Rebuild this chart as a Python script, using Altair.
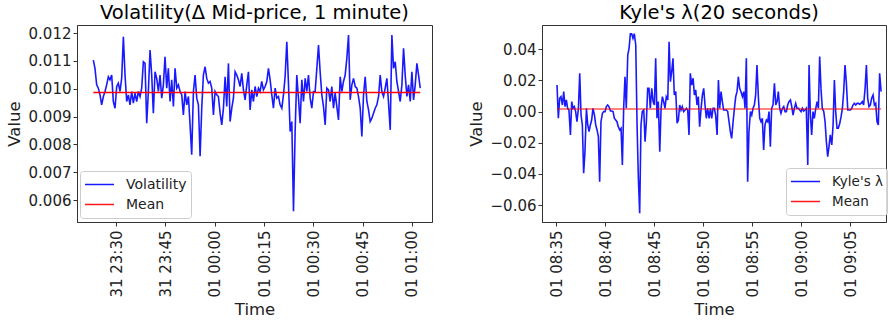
import altair as alt
import numpy as np
import pandas as pd

# ---------------- data ----------------
vol_values = [
    0.01103, 0.01073, 0.01014, 0.01002, 0.00978, 0.00942, 0.00972, 0.00990, 0.01014, 0.01043,
    0.01032, 0.01049, 0.00954, 0.00930, 0.01008, 0.01020, 0.00990, 0.01037, 0.01187, 0.01049,
    0.00954, 0.00978, 0.00942, 0.00990, 0.00948, 0.00984, 0.00954, 0.00990, 0.00972, 0.01002,
    0.01097, 0.01091, 0.00876, 0.00990, 0.01139, 0.01049, 0.00912, 0.01061, 0.01037, 0.00990,
    0.01049, 0.00966, 0.01014, 0.01115, 0.01002, 0.01073, 0.00954, 0.01032, 0.00936, 0.01073,
    0.01002, 0.01014, 0.00990, 0.00978, 0.00906, 0.00990, 0.00942, 0.00972, 0.00870, 0.00763,
    0.00990, 0.01049, 0.00966, 0.00942, 0.00757,
    0.00930, 0.01049, 0.01079, 0.01037, 0.01020, 0.01026, 0.01002, 0.00906, 0.00990, 0.00978,
    0.00972, 0.00912, 0.00870, 0.00930, 0.01043, 0.00936, 0.01091, 0.00882, 0.00930, 0.00966,
    0.01061, 0.01049, 0.01032, 0.01008, 0.01055, 0.00996, 0.00960, 0.01014, 0.01061, 0.00924,
    0.00996, 0.00954, 0.01008, 0.00972, 0.01002, 0.00990, 0.01026, 0.00996, 0.01008, 0.01026,
    0.01073, 0.01032, 0.00978, 0.00930, 0.01002, 0.00966, 0.00972, 0.00942, 0.00930, 0.00978,
    0.01043, 0.01169, 0.01020, 0.00846, 0.00882, 0.00560, 0.00846, 0.01049, 0.00966, 0.00876,
    0.01032, 0.00954, 0.01037, 0.00990, 0.01049, 0.00966, 0.00930, 0.00990,
    0.00990, 0.01073, 0.01157, 0.01061, 0.00978, 0.00936, 0.00870, 0.01002, 0.00996, 0.00954,
    0.01008, 0.00930, 0.00984, 0.00936, 0.00888, 0.01043, 0.00990, 0.01026, 0.01049, 0.01109,
    0.01193, 0.00960, 0.01014, 0.01037, 0.01008, 0.01002, 0.00972, 0.00930, 0.00828, 0.00978,
    0.01043, 0.00954, 0.00924, 0.00882, 0.00894, 0.00912, 0.00930, 0.00942, 0.00972, 0.01049,
    0.00990, 0.00972, 0.01002, 0.01037, 0.00948, 0.00852, 0.01193, 0.01073, 0.01097, 0.01026,
    0.00990, 0.00954, 0.01014, 0.01145, 0.01049, 0.00972, 0.01014, 0.00954, 0.01061, 0.00960,
    0.01014, 0.01091, 0.01049, 0.01002,
]
vol_mean = 0.00986
vol_start = "2020-12-31 23:23:06"
vol_step_seconds = 30.43

kyle_values = [
    0.0171, -0.0043, 0.0085, 0.0096, 0.0042, 0.0128, 0.0032, 0.0075, 0.0021, 0.0010,
    -0.0150, 0.0064, 0.0021, 0.0032, 0.0000, -0.0065, 0.0021, 0.0246, -0.0022, -0.0086,
    -0.0396, -0.0257, 0.0021, -0.0086, -0.0129, -0.0086, -0.0054, 0.0021, -0.0022, -0.0086,
    -0.0118, -0.0161, -0.0450, -0.0065, -0.0011, 0.0000, 0.0000, 0.0032, 0.0042, 0.0032,
    0.0004, 0.0004, 0.0000, -0.0043, -0.0054, -0.0065, -0.0097, -0.0118, -0.0107, -0.0343,
    0.0021, 0.0224, 0.0021, 0.0363, 0.0406, 0.0500, 0.0500, 0.0470, 0.0500, 0.0428,
    -0.0086, -0.0428, -0.0653, -0.0086, 0.0000, 0.0010, -0.0193, -0.0065, 0.0149, 0.0149,
    0.0021, 0.0149, 0.0064, 0.0042, 0.0342,
    -0.0043, 0.0064, -0.0257, 0.0021, 0.0096, 0.0064, 0.0021, 0.0096, 0.0075, 0.0449,
    0.0192, 0.0256, 0.0342, 0.0107, 0.0128, -0.0075, -0.0054, 0.0042, 0.0010, 0.0032,
    0.0000, 0.0010, 0.0021, 0.0010, -0.0150, 0.0246, 0.0171, 0.0214, 0.0107, 0.0139,
    0.0042, 0.0096, -0.0097, 0.0021, 0.0107, 0.0149, 0.0042, -0.0043, 0.0021, -0.0043,
    0.0021, -0.0043, 0.0021, 0.0021, -0.0022, -0.0150, 0.0203, 0.0021, 0.0128, 0.0064,
    0.0010, 0.0010, 0.0010, 0.0000, -0.0065, -0.0129, -0.0172, -0.0065, 0.0021, 0.0096,
    0.0128, 0.0224, 0.0149, 0.0128, 0.0096, 0.0128, 0.0021, 0.0342, -0.0450, -0.0129,
    0.0000, -0.0022, 0.0021, 0.0042, 0.0107, 0.0299, 0.0085, -0.0043, -0.0065, -0.0043,
    -0.0246, -0.0086, -0.0054,
    -0.0065, 0.0000, -0.0225, 0.0021, 0.0042, 0.0181, 0.0042, 0.0064, 0.0128, 0.0021,
    -0.0011, 0.0021, 0.0032, 0.0000, 0.0000, 0.0042, 0.0064, 0.0075, 0.0032, -0.0022,
    0.0021, 0.0053, 0.0021, 0.0021, 0.0010, 0.0000, 0.0021, 0.0004, 0.0010, 0.0021,
    -0.0343, 0.0299, -0.0022, -0.0150, 0.0000, -0.0043, 0.0021, 0.0064, 0.0021, 0.0353,
    0.0149, 0.0021, 0.0000, -0.0065, -0.0193, -0.0289, -0.0225, -0.0150, -0.0214, -0.0086,
    0.0203, 0.0000, -0.0107, -0.0107, -0.0075, -0.0033, 0.0021, 0.0128, 0.0299, 0.0192,
    0.0010, 0.0010, 0.0010, 0.0021, 0.0042, 0.0053, 0.0042, 0.0053, 0.0053, 0.0047,
    0.0053, 0.0064, 0.0042, 0.0149, 0.0299, 0.0085, 0.0032, 0.0042, 0.0085, 0.0107,
    0.0042, 0.0053, -0.0065, -0.0086, 0.0246, 0.0128,
]
kyle_mean = 0.0017
kyle_start = "2021-01-01 08:35:06"
kyle_step_seconds = 8.163

vol_series_names = ["Volatility", "Mean"]
kyle_series_names = ["Kyle's λ", "Mean"]
vol_title = "Volatility(Δ Mid-price, 1 minute)"
kyle_title = "Kyle's λ(20 seconds)"
vol_yticks = [0.006, 0.007, 0.008, 0.009, 0.010, 0.011, 0.012]
kyle_yticks = [-0.06, -0.04, -0.02, 0.00, 0.02, 0.04]
# x tick labels (year, month, day, hour, minute)
vol_xticks = [(2020, 12, 31, 23, 30), (2020, 12, 31, 23, 45), (2021, 1, 1, 0, 0),
              (2021, 1, 1, 0, 15), (2021, 1, 1, 0, 30), (2021, 1, 1, 0, 45),
              (2021, 1, 1, 1, 0)]
kyle_xticks = [(2021, 1, 1, 8, 35), (2021, 1, 1, 8, 40), (2021, 1, 1, 8, 45),
               (2021, 1, 1, 8, 50), (2021, 1, 1, 8, 55), (2021, 1, 1, 9, 0),
               (2021, 1, 1, 9, 5)]

FONT = "DejaVu Sans"


def dt(y, mo, d, h, mi, s=0):
    return alt.DateTime(year=y, month=mo, date=d, hours=h, minutes=mi, seconds=s)


def make_frames(values, start, step, mean, names):
    t = pd.Timestamp(start) + pd.to_timedelta(np.arange(len(values)) * step, unit="s")
    t = t.round("s")
    df = pd.DataFrame({"time": t, "value": values, "series": names[0]})
    dm = pd.DataFrame({"time": [t[0], t[-1]], "value": [mean, mean], "series": names[1]})
    return df, dm


def panel(df, dm, title, names, mean_opacity, ydom, yticks, yfmt, xdom, xticks,
          width, legend_x, legend_y, title_dx, legend_font):
    color = alt.Color(
        "series:N",
        scale=alt.Scale(domain=names, range=["#0000ff", "#ff0000"]),
        legend=alt.Legend(
            title=None, orient="none", legendX=legend_x, legendY=legend_y,
            symbolType="stroke", symbolSize=841, symbolStrokeWidth=1.5,
            labelFont=FONT, labelFontSize=legend_font, labelColor="#222",
            labelOffset=11, padding=4, rowPadding=1, clipHeight=19,
            fillColor="rgba(255,255,255,0.8)", strokeColor="#cccccc",
            cornerRadius=3,
        ),
    )
    x = alt.X(
        "time:T",
        scale=alt.Scale(domain=xdom),
        axis=alt.Axis(
            title="Time", format="%d %H:%M",
            values=[dt(*v) for v in xticks],
            labelAngle=-90, labelAlign="right", labelBaseline="middle",
            labelPadding=4, titlePadding=4,
        ),
    )
    y = alt.Y(
        "value:Q",
        scale=alt.Scale(domain=ydom, nice=False, zero=False),
        axis=alt.Axis(title="Value", values=yticks, format=yfmt, titlePadding=6),
    )
    main = alt.Chart(df).mark_line(strokeWidth=1.6, opacity=0.9, clip=True).encode(
        x=x, y=y, color=color
    )
    mean_line = alt.Chart(dm).mark_line(strokeWidth=1.5, opacity=mean_opacity).encode(
        x=x, y=y, color=color
    )
    return alt.layer(main, mean_line).properties(
        width=width,
        height=197,
        title=alt.TitleParams(
            title, font=FONT, fontSize=19.5, fontWeight="normal", color="black",
            anchor="middle", offset=2, dx=title_dx,
        ),
    )


vdf, vdm = make_frames(vol_values, vol_start, vol_step_seconds, vol_mean, vol_series_names)
kdf, kdm = make_frames(kyle_values, kyle_start, kyle_step_seconds, kyle_mean, kyle_series_names)

left = panel(
    vdf, vdm, vol_title, vol_series_names, 1.0,
    [0.00521, 0.01229], vol_yticks, ".3f",
    [dt(2020, 12, 31, 23, 18, 8), dt(2021, 1, 1, 1, 6, 5)], vol_xticks,
    355, 3, 146, 0, 14,
)
right = panel(
    kdf, kdm, kyle_title, kyle_series_names, 0.65,
    [-0.0709, 0.0556], kyle_yticks, ".2f",
    [dt(2021, 1, 1, 8, 33, 34), dt(2021, 1, 1, 9, 8, 40)], kyle_xticks,
    344, 244, 143, 5, 13.5,
)

chart = (
    alt.hconcat(left, right, spacing=34)
    .resolve_scale(color="independent")
    .resolve_legend(color="independent")
    .properties(padding={"left": 5, "top": 2, "right": 0, "bottom": 0})
    .configure_view(stroke="#333333", strokeWidth=1)
    .configure_axis(
        labelFont=FONT, labelFontSize=15, labelColor="#222222",
        titleFont=FONT, titleFontSize=16.5, titleFontWeight="normal", titleColor="#222222",
        tickColor="#333333", domainColor="#333333", tickSize=4, grid=False,
        labelPadding=2, domainWidth=1,
    )
)

chart.save("out.html", embed_options={"renderer": "svg", "actions": False})
